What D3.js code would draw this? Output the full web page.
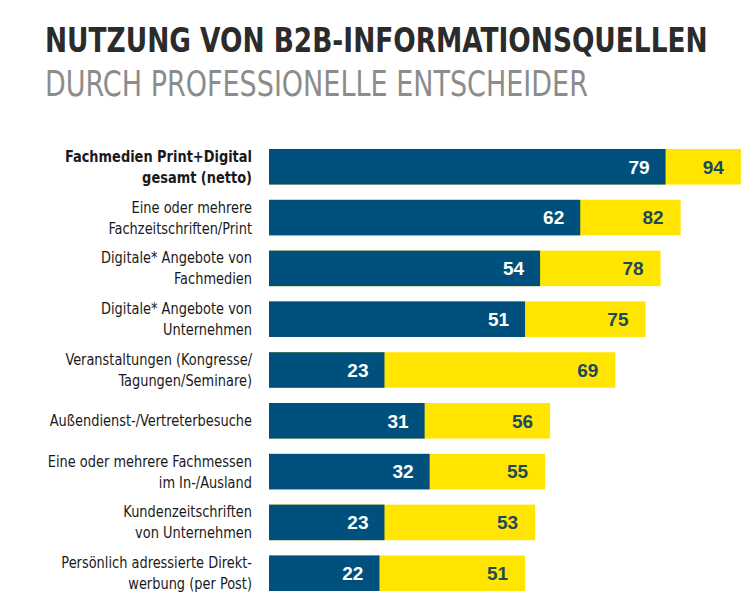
<!DOCTYPE html>
<html>
<head>
<meta charset="utf-8">
<script src="https://cdn.jsdelivr.net/npm/d3@7"></script>
<style>
  body { margin: 0; background: #fff; }
</style>
</head>
<body>
<svg id="chart"></svg>
<script>
// data
const categories = [
  ["Fachmedien Print+Digital", "gesamt (netto)"],
  ["Eine oder mehrere", "Fachzeitschriften/Print"],
  ["Digitale* Angebote von", "Fachmedien"],
  ["Digitale* Angebote von", "Unternehmen"],
  ["Veranstaltungen (Kongresse/", "Tagungen/Seminare)"],
  ["Außendienst-/Vertreterbesuche"],
  ["Eine oder mehrere Fachmessen", "im In-/Ausland"],
  ["Kundenzeitschriften", "von Unternehmen"],
  ["Persönlich adressierte Direkt-", "werbung (per Post)"]
];
const blueValues = [79, 62, 54, 51, 23, 31, 32, 23, 22];
const yellowValues = [94, 82, 78, 75, 69, 56, 55, 53, 51];

const width = 750, height = 609;
const narrow = "'Liberation Sans Narrow', 'DejaVu Sans Condensed', 'Arial Narrow', sans-serif";
const blue = "#00507e", yellow = "#ffe500", yellowText = "#1d4a5a";

const svg = d3.select("#chart")
  .attr("width", width)
  .attr("height", height)
  .attr("viewBox", [0, 0, width, height]);

// titles: squeeze horizontally so they span the same width as in the picture
function fitText(g, target) {
  const w = g.select("text").node().getComputedTextLength();
  g.attr("transform", `translate(45,0) scale(${Math.min(1, target / w)},1)`);
}

const title = svg.append("g");
title.append("text")
  .attr("x", 0).attr("y", 52)
  .attr("font-family", narrow)
  .attr("font-weight", "bold")
  .attr("font-size", 33)
  .attr("fill", "#2b2b2b")
  .text("NUTZUNG VON B2B-INFORMATIONSQUELLEN");
fitText(title, 663);

const subtitle = svg.append("g");
subtitle.append("text")
  .attr("x", 0).attr("y", 96)
  .attr("font-family", narrow)
  .attr("font-size", 35)
  .attr("fill", "#8c8c8c")
  .text("DURCH PROFESSIONELLE ENTSCHEIDER");
fitText(subtitle, 543);

const x = d3.scaleLinear().domain([0, 100]).range([269, 771]);
const y = d3.scaleBand()
  .domain(d3.range(categories.length))
  .range([149, 591])
  .paddingInner(0.3);

const rows = svg.append("g")
  .selectAll("g")
  .data(categories.map((c, i) => ({ label: c, blue: blueValues[i], total: yellowValues[i], i })))
  .join("g")
  .attr("transform", d => `translate(0,${y(d.i)})`);

rows.append("rect")
  .attr("x", x(0))
  .attr("height", y.bandwidth())
  .attr("width", d => x(d.total) - x(0))
  .attr("fill", yellow);

rows.append("rect")
  .attr("x", x(0))
  .attr("height", y.bandwidth())
  .attr("width", d => x(d.blue) - x(0))
  .attr("fill", blue);

rows.append("text")
  .attr("x", d => x(d.blue) - 16)
  .attr("y", y.bandwidth() / 2)
  .attr("dy", "0.36em")
  .attr("text-anchor", "end")
  .attr("font-family", "'Liberation Sans', Arial, sans-serif")
  .attr("font-weight", "bold")
  .attr("font-size", 19)
  .attr("fill", "#fff")
  .text(d => d.blue);

rows.append("text")
  .attr("x", d => x(d.total) - 17)
  .attr("y", y.bandwidth() / 2)
  .attr("dy", "0.36em")
  .attr("text-anchor", "end")
  .attr("font-family", "'Liberation Sans', Arial, sans-serif")
  .attr("font-weight", "bold")
  .attr("font-size", 19)
  .attr("fill", yellowText)
  .text(d => d.total);

// category labels, one or two lines, squeezed a little to look condensed
rows.append("text")
  .attr("transform", `translate(252,${y.bandwidth() / 2}) scale(0.93,1)`)
  .attr("text-anchor", "end")
  .attr("font-family", narrow)
  .attr("font-size", 15.5)
  .attr("font-weight", d => d.i === 0 ? "bold" : "normal")
  .attr("fill", "#1a1a1a")
  .each(function(d) {
    const t = d3.select(this);
    const n = d.label.length;
    d.label.forEach((line, k) => {
      t.append("tspan")
        .attr("x", 0)
        .attr("y", (k - (n - 1) / 2) * 21)
        .attr("dy", "0.35em")
        .text(line);
    });
  });
</script>
</body>
</html>
